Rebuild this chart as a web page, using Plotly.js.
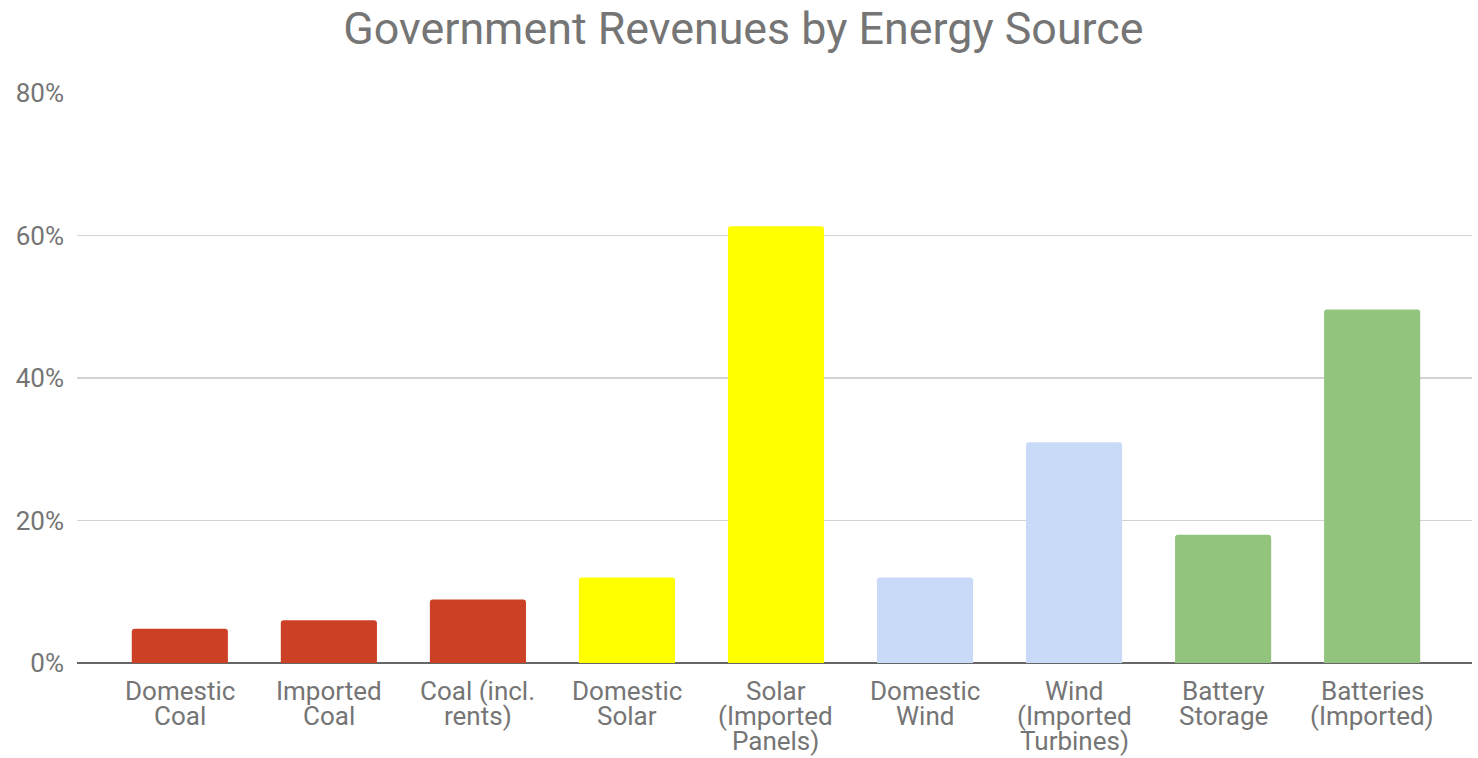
<!DOCTYPE html>
<html>
<head>
<meta charset="utf-8">
<script src="https://cdn.plot.ly/plotly-3.0.1.min.js"></script>
<style>
  html, body { margin: 0; padding: 0; background: #ffffff; }
  #chart { width: 1478px; height: 758px; }
</style>
</head>
<body>
<div id="chart"></div>
<script>
// ---- data ----
const categories = [
  "Domestic<br>Coal",
  "Imported<br>Coal",
  "Coal (incl.<br>rents)",
  "Domestic<br>Solar",
  "Solar<br>(Imported<br>Panels)",
  "Domestic<br>Wind",
  "Wind<br>(Imported<br>Turbines)",
  "Battery<br>Storage",
  "Batteries<br>(Imported)"
];
const revenuesPct = [4.8, 6.0, 8.9, 12.0, 61.3, 12.0, 31.0, 18.0, 49.6];
const sourceGroup = ["Coal", "Coal", "Coal", "Solar", "Solar", "Wind", "Wind", "Battery", "Battery"];
const yTickValues = [0, 20, 40, 60, 80];
const yTickLabels = ["0%", "20%", "40%", "60%", "80%"];

// ---- styles ----
const groupColors = { Coal: "#cc4125", Solar: "#ffff00", Wind: "#c9daf8", Battery: "#93c47d" };
const textGray = "#757575";
const fontFamily = "Roboto, 'Noto Sans', sans-serif";

const xIdx = categories.map((_, i) => i);

const trace = {
  type: "bar",
  x: xIdx,
  y: revenuesPct,
  marker: { color: sourceGroup.map(g => groupColors[g]), line: { width: 0 } },
  hoverinfo: "skip",
  showlegend: false
};

// multi-line category labels placed under each bar, one annotation per line
const annotations = [];
categories.forEach((label, i) => {
  label.split("<br>").forEach((line, j) => {
    annotations.push({
      x: i, xref: "x",
      y: 0, yref: "y",
      text: line,
      showarrow: false,
      xanchor: "center",
      yanchor: "middle",
      borderpad: 0,
      yshift: -(27.5 + 25.3 * j),
      font: { family: fontFamily, size: 26, color: textGray }
    });
  });
});

const layout = {
  width: 1478,
  height: 758,
  paper_bgcolor: "#ffffff",
  plot_bgcolor: "#ffffff",
  margin: { l: 77, r: 6, t: 93, b: 95 },
  font: { family: fontFamily, color: textGray },
  title: {
    text: "Government Revenues by Energy Source",
    font: { family: fontFamily, size: 44.8, color: textGray },
    xref: "container", x: 0.503, xanchor: "center",
    yref: "container", y: 0.963, yanchor: "middle"
  },
  bargap: 0.355,
  barcornerradius: 3,
  xaxis: {
    type: "linear",
    range: [-0.69, 8.67],
    showticklabels: false,
    showgrid: false,
    zeroline: false,
    ticks: "",
    fixedrange: true
  },
  yaxis: {
    range: [0, 80],
    tickmode: "array",
    tickvals: yTickValues,
    ticktext: yTickLabels,
    tickfont: { family: fontFamily, size: 26, color: textGray },
    ticklabelstandoff: 12,
    showgrid: true,
    gridcolor: "#d3d3d3",
    gridwidth: 1.5,
    zeroline: true,
    zerolinecolor: "#666666",
    zerolinewidth: 2,
    showline: false,
    ticks: "",
    fixedrange: true
  },
  annotations: annotations
};

Plotly.newPlot("chart", [trace], layout, { displayModeBar: false, staticPlot: true });
</script>
</body>
</html>
